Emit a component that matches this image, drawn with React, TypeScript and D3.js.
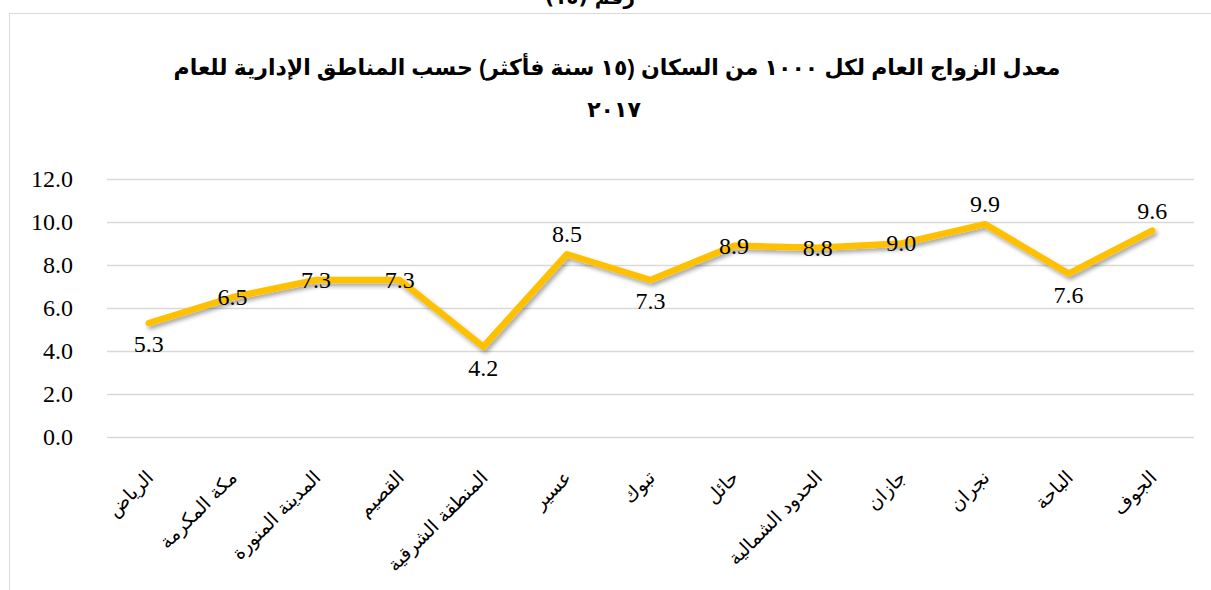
import React, { useEffect, useRef } from 'react';
import * as d3 from 'd3';

// المناطق الإدارية
const regions = [
  'الرياض', 'مكة المكرمة', 'المدينة المنورة', 'القصيم', 'المنطقة الشرقية', 'عسير',
  'تبوك', 'حائل', 'الحدود الشمالية', 'جازان', 'نجران', 'الباحة', 'الجوف',
];
const rates = [5.3, 6.5, 7.3, 7.3, 4.2, 8.5, 7.3, 8.9, 8.8, 9.0, 9.9, 7.6, 9.6];
const yTicks = [0, 2, 4, 6, 8, 10, 12];

const titleLine1 = 'معدل الزواج العام لكل ١٠٠٠ من السكان (١٥ سنة فأكثر) حسب المناطق الإدارية للعام';
const titleLine2 = '٢٠١٧';
const cutText = 'رقم (١٥)';

// label placement per point (b = below, c = centre, a = above)
const labelPlace = ['b', 'c', 'c', 'c', 'b', 'a', 'b', 'c', 'c', 'c', 'a', 'b', 'a'];

const W = 1211;
const H = 590;
const plot = { left: 107, right: 1194, top: 179, bottom: 437 };

export default function App() {
  const ref = useRef<SVGSVGElement>(null);

  useEffect(() => {
    const svg = d3.select(ref.current);
    svg.selectAll('*').remove();

    const x = d3.scaleBand().domain(regions).range([plot.left, plot.right]);
    const y = d3.scaleLinear().domain([0, 12]).range([plot.bottom, plot.top]);

    svg.append('rect').attr('width', W).attr('height', H).attr('fill', '#fff');

    const defs = svg.append('defs');
    const f = defs.append('filter').attr('id', 'shadow').attr('x', '-10%').attr('y', '-20%')
      .attr('width', '120%').attr('height', '150%');
    f.append('feDropShadow').attr('dx', 2).attr('dy', 3).attr('stdDeviation', 2)
      .attr('flood-color', '#000').attr('flood-opacity', 0.35);

    // frame
    svg.append('line').attr('x1', 9).attr('x2', W).attr('y1', 13.5).attr('y2', 13.5)
      .attr('stroke', '#d9d9d9').attr('stroke-width', 1);
    svg.append('line').attr('x1', 9.5).attr('x2', 9.5).attr('y1', 13).attr('y2', H)
      .attr('stroke', '#d9d9d9').attr('stroke-width', 1);

    // text of the page above the chart, cut off by the edge
    svg.append('text').attr('x', 590).attr('y', 4).attr('text-anchor', 'middle')
      .attr('font-family', '"DejaVu Sans", sans-serif').attr('font-weight', 'bold')
      .attr('font-size', 20).text(cutText);

    // title
    const tg = svg.append('g').attr('font-family', '"Liberation Sans", "DejaVu Sans", sans-serif')
      .attr('font-weight', 'bold').attr('font-size', 22).attr('text-anchor', 'middle').attr('fill', '#000');
    tg.append('text').attr('x', 617).attr('y', 75).attr('direction', 'rtl').attr('unicode-bidi', 'embed')
      .text(titleLine1);
    tg.append('text').attr('x', 614).attr('y', 117).text(titleLine2);

    // grid
    svg.append('g').selectAll('line').data(yTicks).join('line')
      .attr('x1', plot.left).attr('x2', plot.right)
      .attr('y1', (d) => Math.round(y(d)) + 0.5).attr('y2', (d) => Math.round(y(d)) + 0.5)
      .attr('stroke', '#d9d9d9').attr('stroke-width', 1.5);

    // y axis labels
    svg.append('g').selectAll('text').data(yTicks).join('text')
      .attr('x', 73).attr('y', (d) => y(d)).attr('dy', '0.33em').attr('text-anchor', 'end')
      .style('font-family', "'Liberation Serif', serif").style('font-size', '24px')
      .attr('fill', '#000').text((d) => d3.format('.1f')(d));

    // x labels
    const cx = (d: string) => (x(d) as number) + x.bandwidth() / 2;
    svg.append('g').selectAll('text').data(regions).join('text')
      .attr('transform', (d) => `translate(${cx(d) + 1},${474}) rotate(-45)`)
      .attr('text-anchor', 'end').attr('dy', '0.35em')
      .attr('font-family', '"DejaVu Sans", sans-serif').attr('font-size', 19)
      .attr('fill', '#000').text((d) => d);

    // line
    const line = d3.line<number>().x((_, i) => cx(regions[i])).y((d) => y(d));
    svg.append('path').datum(rates).attr('d', line).attr('fill', 'none')
      .attr('stroke', '#ffc000').attr('stroke-width', 6.5).attr('stroke-linejoin', 'round')
      .attr('stroke-linecap', 'round').attr('filter', 'url(#shadow)');

    // data labels
    svg.append('g').selectAll('text').data(rates).join('text')
      .attr('x', (_, i) => cx(regions[i]))
      .attr('y', (d, i) => y(d) + (labelPlace[i] === 'b' ? 21 : labelPlace[i] === 'a' ? -20 : 0))
      .attr('dy', '0.33em').attr('text-anchor', 'middle')
      .style('font-family', "'Liberation Serif', serif").style('font-size', '24px')
      .attr('fill', '#000').text((d) => d3.format('.1f')(d));
  }, []);

  return (
    <svg ref={ref} width={W} height={H}
      style={{ position: 'absolute', left: 0, top: 0, display: 'block' }} />
  );
}
